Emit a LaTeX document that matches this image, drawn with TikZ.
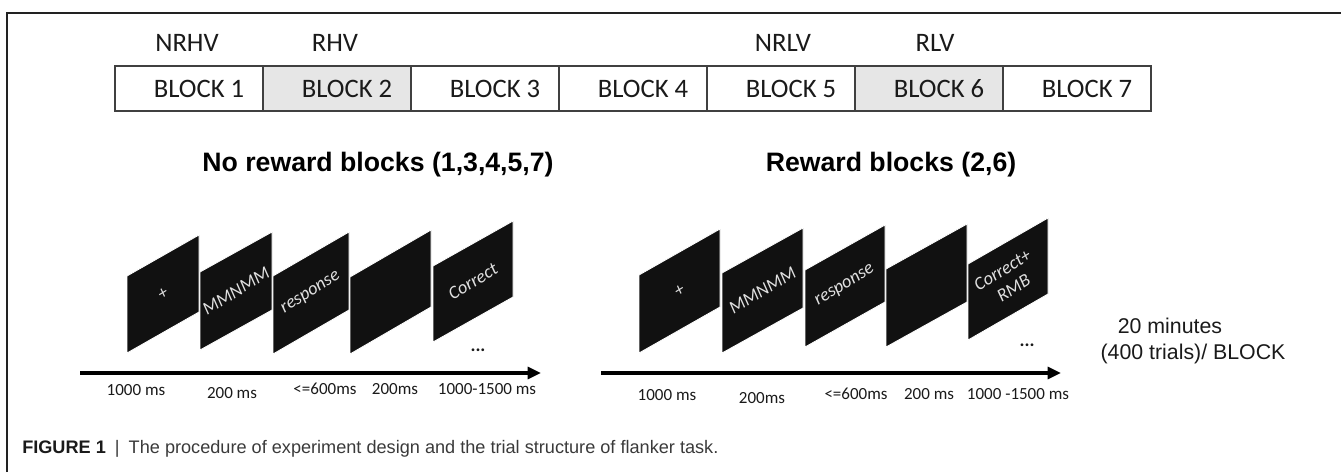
\documentclass[tikz,border=0pt]{standalone}
\usepackage{fontspec}
\setmainfont{Liberation Sans}
\newfontfamily\calfont{Carlito}
\usetikzlibrary{arrows.meta}
\definecolor{cellgray}{HTML}{E6E6E6}
\definecolor{framecol}{HTML}{222222}
\definecolor{panelcol}{HTML}{111111}
\definecolor{captcol}{HTML}{3A3A3A}
\definecolor{inkcol}{HTML}{1A1A1A}
\newcommand\mypanel[7]{%
  \fill[panelfill] (#2,#3) -- (#2,#3-#5) -- (#2+#4,#3-#5-#6) -- (#2+#4,#3-#6) -- cycle;
  \node[paneltext, rotate={atan(#6/#4)+2}] (#1) at (#2+#4/2, #3-#5/2-#6/2) {#7};}
\begin{document}
\begin{tikzpicture}[x=0.75pt,y=-0.75pt,
  frameline/.style={draw=framecol, line width=1.1pt},
  cell/.style={draw=black!75, line width=1.1pt, minimum width=111pt, minimum height=33.75pt,
    inner sep=0pt, outer sep=0pt, font=\calfont\fontsize{20}{24}\selectfont, text=inkcol},
  graycell/.style={cell, fill=cellgray},
  toplabel/.style={font=\calfont\fontsize{20}{24}\selectfont, text=inkcol},
  heading/.style={font=\bfseries\fontsize{20}{24}\selectfont, text=black},
  panelfill/.style={fill=panelcol, draw=white, line width=0.6pt},
  paneltext/.style={font=\calfont\itshape\fontsize{13.75}{16}\selectfont, text=black!12, align=center, inner sep=0pt},
  timelabel/.style={font=\calfont\fontsize{12.75}{15}\selectfont, text=inkcol},
  timeline/.style={line width=2.3pt, -{Triangle[length=10pt,width=9pt]}},
  dotslabel/.style={font=\calfont\bfseries\fontsize{14}{16}\selectfont, text=inkcol},
  sidelabel/.style={font=\fontsize{16}{19}\selectfont, text=inkcol},
  caption/.style={font=\fontsize{13.6}{16}\selectfont, text=captcol, anchor=west, inner sep=0pt}
]
\useasboundingbox (0,0) rectangle (1341,472);
% frame
\draw[frameline] (7,472) -- (7,13) -- (1341,13);

% top labels
\node[toplabel] (lnrhv) at (187,43) {NRHV};
\node[toplabel] (lrhv) at (335,43) {RHV};
\node[toplabel] (lnrlv) at (783,43) {NRLV};
\node[toplabel] (lrlv) at (935,43) {RLV};

% block row
\node[cell] (b1) at (189,88.5) {\hspace*{15pt}BLOCK 1};
\node[graycell] (b2) at (337,88.5) {\hspace*{15pt}BLOCK 2};
\node[cell] (b3) at (485,88.5) {\hspace*{15pt}BLOCK 3};
\node[cell] (b4) at (633,88.5) {\hspace*{15pt}BLOCK 4};
\node[cell] (b5) at (781,88.5) {\hspace*{15pt}BLOCK 5};
\node[graycell] (b6) at (929,88.5) {\hspace*{15pt}BLOCK 6};
\node[cell] (b7) at (1077,88.5) {\hspace*{15pt}BLOCK 7};

% headings
\node[heading] (hno) at (378,165) {No reward blocks (1,3,4,5,7)};
\node[heading] (hrw) at (891,165) {Reward blocks (2,6)};

% left group panels
\mypanel{pa1}{127}{353}{72}{77}{41}{+}
\mypanel{pa2}{200}{350}{72}{78}{40}{MMNMM}
\mypanel{pa3}{273}{354}{76}{78}{44}{response}
\mypanel{pa4}{350}{354}{81}{77}{47}{}
\mypanel{pa5}{433}{342}{80}{76}{45}{Correct}
\node[dotslabel] (da) at (478,350) {...};

% right group panels
\mypanel{pb1}{639}{353}{81}{78}{46}{+}
\mypanel{pb2}{722}{353}{81}{80}{45}{MMNMM}
\mypanel{pb3}{805}{347}{80}{77}{45}{response}
\mypanel{pb4}{886}{347}{81}{78}{45}{}
\mypanel{pb5}{968}{340}{80}{76}{46}{Correct+\\RMB}
\node[dotslabel] (db) at (1027,345) {...};

% time axes
\coordinate (ta0) at (80,373);
\coordinate (ta1) at (541,373);
\coordinate (tb0) at (601,373);
\coordinate (tb1) at (1061,373);
\draw[timeline] (ta0) -- (ta1);
\draw[timeline] (tb0) -- (tb1);

% time labels left
\node[timelabel] (ta_1) at (136,390) {1000 ms};
\node[timelabel] (ta_2) at (232,393) {200 ms};
\node[timelabel] (ta_3) at (325,389) {<=600ms};
\node[timelabel] (ta_4) at (395,389) {200ms};
\node[timelabel] (ta_5) at (487,389) {1000-1500 ms};
% time labels right
\node[timelabel] (tb_1) at (667,395) {1000 ms};
\node[timelabel] (tb_2) at (762,398) {200ms};
\node[timelabel] (tb_3) at (856,394) {<=600ms};
\node[timelabel] (tb_4) at (929,394) {200 ms};
\node[timelabel] (tb_5) at (1018,394) {1000 -1500 ms};

% side note
\node[sidelabel] (s1) at (1170,326) {20 minutes};
\node[sidelabel] (s2) at (1193,354) {(400 trials)/ BLOCK};

% caption
\node[caption] (cap) at (22,449) {{\bfseries\color{inkcol}FIGURE 1}\enspace|\enspace The procedure of experiment design and the trial structure of flanker task.};
\end{tikzpicture}
\end{document}
